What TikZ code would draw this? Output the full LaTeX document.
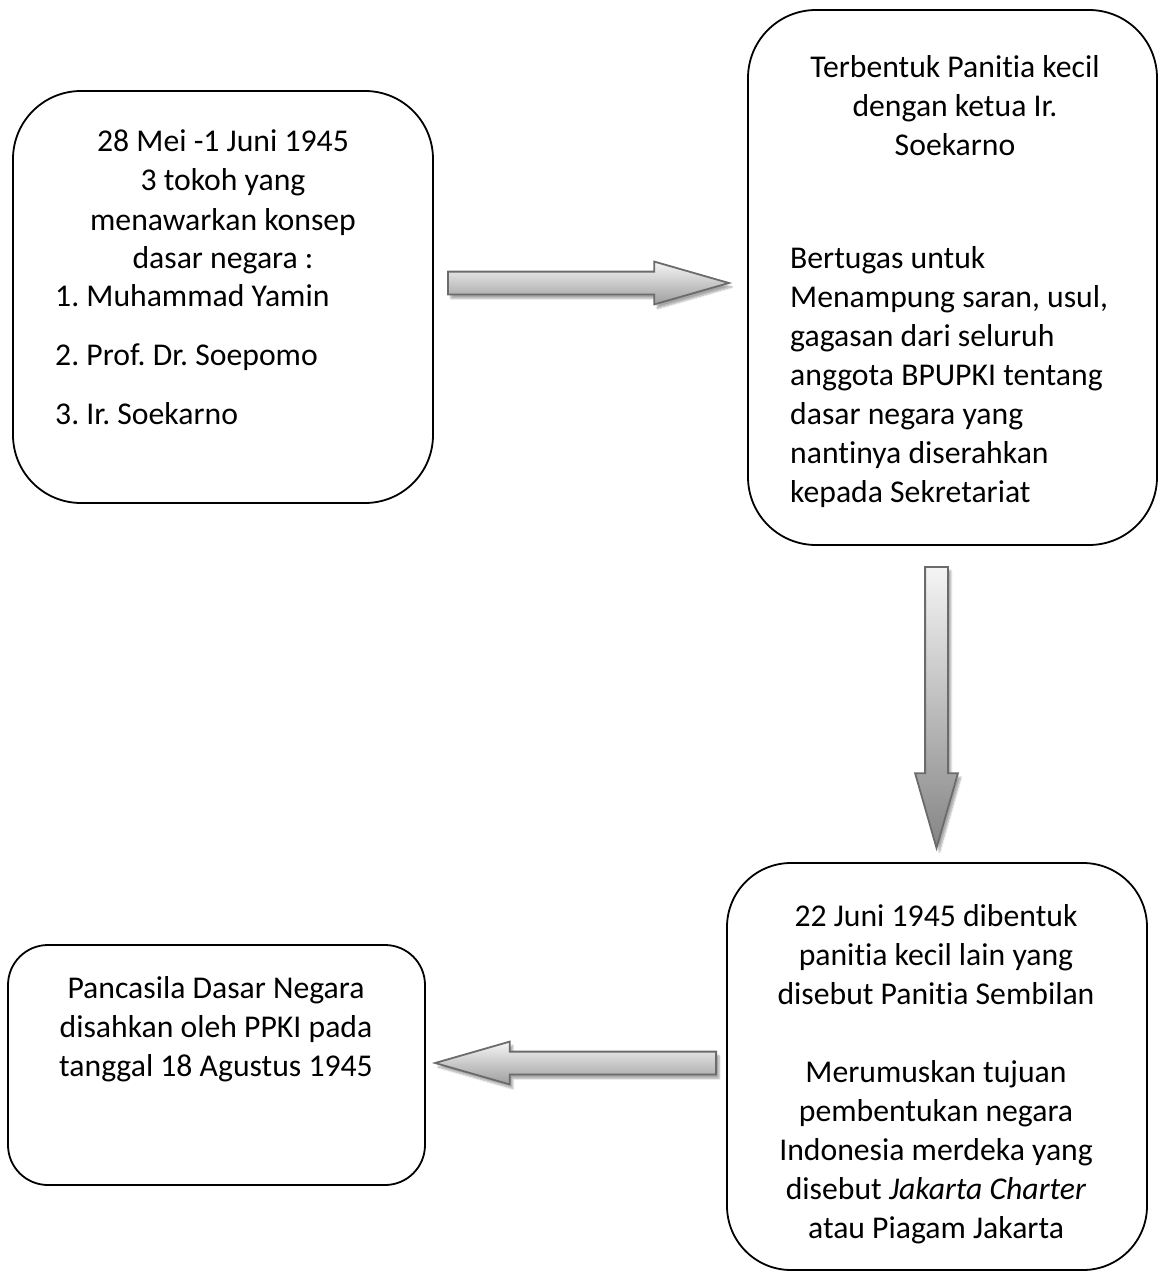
\documentclass[tikz,border=0pt]{standalone}
\usepackage{fontspec}
\setmainfont{Carlito}[Ligatures=NoCommon]
\usetikzlibrary{shapes.arrows,shadows.blur}

\tikzset{
  kotak/.style={draw=black, line width=1.8pt, inner sep=0pt},
  teks/.style={font=\fontsize{31.7pt}{39pt}\selectfont, inner sep=0pt, anchor=base},
  tekskiri/.style={teks, anchor=base west},
  panah/.style={single arrow, draw=black!58, line width=1.8pt, inner sep=10.5pt,
    single arrow head extend=10pt, single arrow tip angle=32,
    single arrow head indent=0pt, top color=white!96!black, bottom color=black!38,
    minimum height=281pt, anchor=tail,
    blur shadow={shadow xshift=3pt, shadow yshift=-4pt, shadow blur steps=6, shadow opacity=35}},
}

\begin{document}
\frenchspacing
\begin{tikzpicture}[x=1pt, y=-1pt]
  \useasboundingbox (0,0) rectangle (1158,1273);

  % kotak
  \node[kotak, minimum width=420pt, minimum height=412pt, rounded corners=68pt] (tokoh) at (223,297) {};
  \node[kotak, minimum width=409pt, minimum height=535pt, rounded corners=68pt] (kecil) at (952.5,277.5) {};
  \node[kotak, minimum width=420pt, minimum height=407pt, rounded corners=64pt] (sembilan) at (937,1066.5) {};
  \node[kotak, minimum width=417pt, minimum height=240pt, rounded corners=40pt] (ppki) at (216.5,1065) {};

  % teks kotak kiri atas
  \foreach \baris [count=\i from 0] in {28 Mei -1 Juni 1945, 3 tokoh yang, menawarkan konsep, dasar negara :}
    \node[teks] (tokoh-\i) at (223, {152+39*\i}) {\baris};
  \foreach \baris [count=\i from 0] in {1. Muhammad Yamin, 2. Prof. Dr. Soepomo, 3. Ir. Soekarno}
    \node[tekskiri] (nama-\i) at (55, {306+59*\i}) {\baris};

  % teks kotak kanan atas
  \foreach \baris [count=\i from 0] in {Terbentuk Panitia kecil, dengan ketua Ir., Soekarno}
    \node[teks] (kecil-\i) at (955, {78+39*\i}) {\baris};
  \foreach \baris [count=\i from 0] in {Bertugas untuk, {Menampung saran, usul,}, gagasan dari seluruh,
      anggota BPUPKI tentang, dasar negara yang, nantinya diserahkan, kepada Sekretariat}
    \node[tekskiri] (tugas-\i) at (790, {268+39*\i}) {\baris};

  % teks kotak kanan bawah
  \foreach \baris [count=\i from 0] in {22 Juni 1945 dibentuk, panitia kecil lain yang, disebut Panitia Sembilan}
    \node[teks] (sembilan-\i) at (936, {926+39*\i}) {\baris};
  \foreach \baris [count=\i from 0] in {Merumuskan tujuan, pembentukan negara, Indonesia merdeka yang,
      disebut \textit{Jakarta Charter}, atau Piagam Jakarta}
    \node[teks] (piagam-\i) at (936, {1082+39*\i}) {\baris};

  % teks kotak kiri bawah
  \foreach \baris [count=\i from 0] in {Pancasila Dasar Negara, disahkan oleh PPKI pada, tanggal 18 Agustus 1945}
    \node[teks] (ppki-\i) at (216, {998+39*\i}) {\baris};

  % panah
  \node[panah] (panah-1) at (447,283) {};
  \node[panah, shape border rotate=270, bottom color=black!48] (panah-2) at (936.5,566) {};
  \node[panah, shape border rotate=180] (panah-3) at (717,1063) {};
\end{tikzpicture}
\end{document}
